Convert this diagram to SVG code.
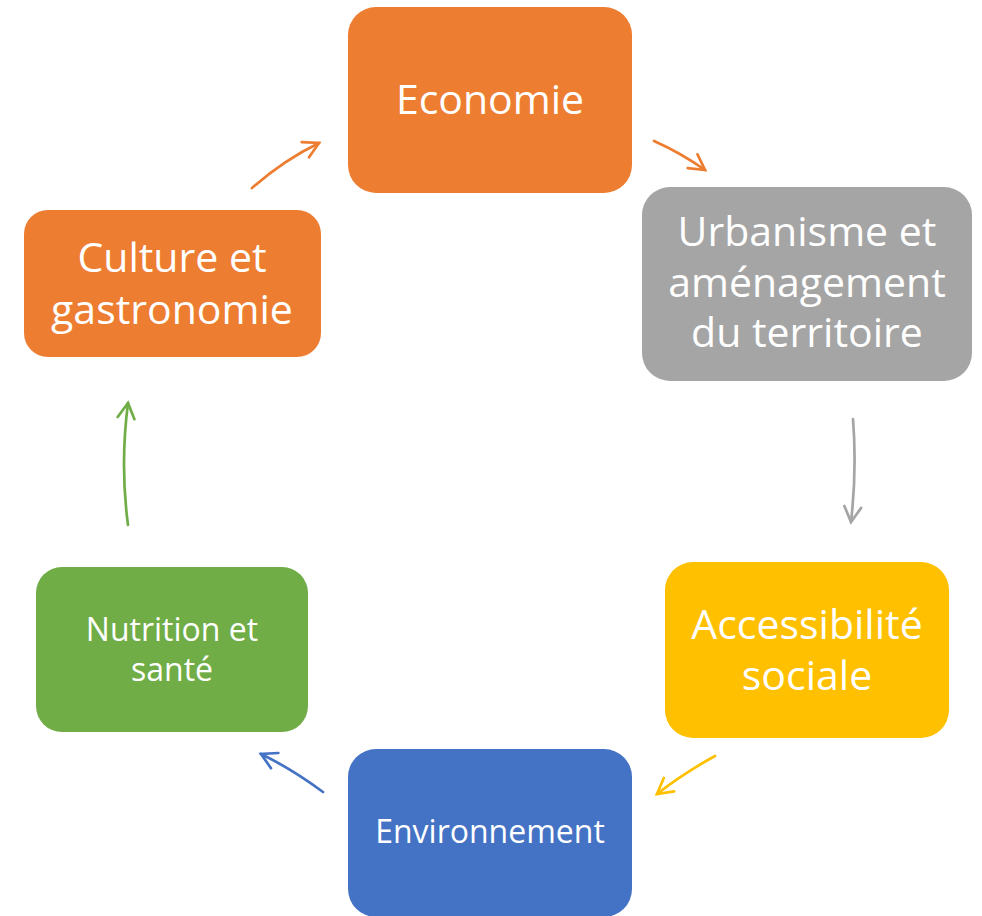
<svg xmlns="http://www.w3.org/2000/svg" width="982" height="916" viewBox="0 0 982 916">
<style>
.box{stroke:none}
.t{font-family:"Open Sans","Liberation Sans",sans-serif;fill:#fff;text-anchor:middle}
.big{font-size:41px}
.small{font-size:32px}
.c{fill:none;stroke-width:2.7;stroke-linecap:round}
</style>
<defs>
<marker id="ao" viewBox="0 0 12 12" refX="10" refY="6" markerWidth="7.5" markerHeight="7.5" markerUnits="strokeWidth" orient="auto"><polyline points="1,1 10,6 1,11" fill="none" stroke="#ED7D31" stroke-width="1.6" stroke-linecap="round"/></marker>
<marker id="ag" viewBox="0 0 12 12" refX="10" refY="6" markerWidth="7.5" markerHeight="7.5" markerUnits="strokeWidth" orient="auto"><polyline points="1,1 10,6 1,11" fill="none" stroke="#A5A5A5" stroke-width="1.6" stroke-linecap="round"/></marker>
<marker id="ay" viewBox="0 0 12 12" refX="10" refY="6" markerWidth="7.5" markerHeight="7.5" markerUnits="strokeWidth" orient="auto"><polyline points="1,1 10,6 1,11" fill="none" stroke="#FFC000" stroke-width="1.6" stroke-linecap="round"/></marker>
<marker id="ab" viewBox="0 0 12 12" refX="10" refY="6" markerWidth="7.5" markerHeight="7.5" markerUnits="strokeWidth" orient="auto"><polyline points="1,1 10,6 1,11" fill="none" stroke="#4472C4" stroke-width="1.6" stroke-linecap="round"/></marker>
<marker id="agr" viewBox="0 0 12 12" refX="10" refY="6" markerWidth="7.5" markerHeight="7.5" markerUnits="strokeWidth" orient="auto"><polyline points="1,1 10,6 1,11" fill="none" stroke="#70AD47" stroke-width="1.6" stroke-linecap="round"/></marker>
</defs>
<g id="connectors">
<path class="c" stroke="#ED7D31" d="M252,188 Q284,160 319,143" marker-end="url(#ao)"/>
<path class="c" stroke="#ED7D31" d="M654,141 Q681,153 705,170" marker-end="url(#ao)"/>
<path class="c" stroke="#A5A5A5" d="M853,419 Q857,470 851,522" marker-end="url(#ag)"/>
<path class="c" stroke="#FFC000" d="M715,756 Q684,773 657,794" marker-end="url(#ay)"/>
<path class="c" stroke="#4472C4" d="M323,792 Q292,769 261,754" marker-end="url(#ab)"/>
<path class="c" stroke="#70AD47" d="M128,525 Q120,465 128,403" marker-end="url(#agr)"/>
</g>
<g id="economie">
<rect class="box" x="348" y="7" width="284" height="186" rx="28" fill="#ED7D31"/>
<text class="t big" x="490" y="114">Economie</text>
</g>
<g id="urbanisme">
<rect class="box" x="642" y="187" width="330" height="194" rx="28" fill="#A5A5A5"/>
<text class="t big" x="807" y="246">Urbanisme et</text>
<text class="t big" x="807" y="297">aménagement</text>
<text class="t big" x="807" y="347">du territoire</text>
</g>
<g id="accessibilite">
<rect class="box" x="665" y="562" width="284" height="176" rx="28" fill="#FFC000"/>
<text class="t big" x="807" y="639">Accessibilité</text>
<text class="t big" x="807" y="690">sociale</text>
</g>
<g id="environnement">
<rect class="box" x="348" y="749" width="284" height="168" rx="28" fill="#4472C4"/>
<text class="t small" x="490" y="843">Environnement</text>
</g>
<g id="nutrition">
<rect class="box" x="36" y="567" width="272" height="165" rx="26" fill="#70AD47"/>
<text class="t small" x="172" y="641">Nutrition et</text>
<text class="t small" x="172" y="681">santé</text>
</g>
<g id="culture">
<rect class="box" x="24" y="210" width="297" height="147" rx="24" fill="#ED7D31"/>
<text class="t big" x="172" y="272">Culture et</text>
<text class="t big" x="172" y="324">gastronomie</text>
</g>
</svg>
